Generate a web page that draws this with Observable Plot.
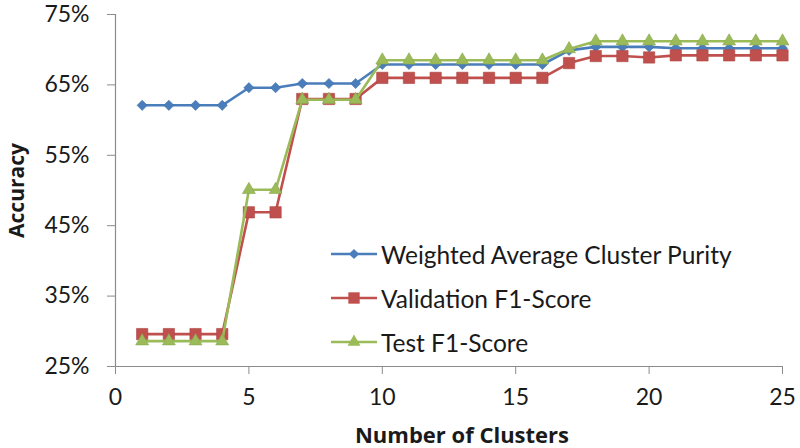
<!DOCTYPE html>
<html>
<head>
<meta charset="utf-8">
<script src="https://cdn.jsdelivr.net/npm/d3@7"></script>
<script src="https://cdn.jsdelivr.net/npm/@observablehq/plot@0.6"></script>
<style>
  html, body { margin: 0; padding: 0; background: #fff; }
  #wrap { position: relative; width: 800px; height: 448px; font-family: Lato, "Open Sans", sans-serif; }
  #legend { position: absolute; left: 331px; top: 232px; }
  .item { display: flex; align-items: center; height: 44px; font-size: 24.5px; color: #1a1a1a; white-space: nowrap; }
  .item svg { margin-right: 4px; }
</style>
</head>
<body>
<div id="wrap"><div id="legend"></div></div>
<script>
const clusters = [1,2,3,4,5,6,7,8,9,10,11,12,13,14,15,16,17,18,19,20,21,22,23,24,25];
const purity =     [62.1,62.1,62.1,62.1,64.6,64.6,65.2,65.2,65.2,67.9,67.9,67.9,67.9,67.9,67.9,67.9,69.9,70.4,70.4,70.4,70.2,70.2,70.2,70.2,70.2];
const validation = [29.6,29.6,29.6,29.6,46.9,46.9,63.0,63.0,63.0,66.0,66.0,66.0,66.0,66.0,66.0,66.0,68.1,69.1,69.1,68.9,69.2,69.2,69.2,69.2,69.2];
const testF1 =     [28.6,28.6,28.6,28.6,50.1,50.1,62.9,62.9,62.9,68.5,68.5,68.5,68.5,68.5,68.5,68.5,70.1,71.2,71.2,71.2,71.2,71.2,71.2,71.2,71.2];
const seriesNames = ["Weighted Average Cluster Purity", "Validation F1-Score", "Test F1-Score"];
const seriesValues = [purity, validation, testF1];
const colors = ["#4a7ebb", "#c0504d", "#9bbb59"];
const symbols = ["diamond2", "square", "triangle"];
const symbolR = [4.6, 6.4, 4.8];
const xTicks = [0,5,10,15,20,25];
const yTicks = [0.25,0.35,0.45,0.55,0.65,0.75];

const data = seriesNames.flatMap((s, i) => clusters.map((c, j) => ({series: s, x: c, y: seriesValues[i][j] / 100})));

const marks = [];
marks.push(Plot.ruleX([0], {stroke: "#8c8c8c", strokeWidth: 1.2}));
marks.push(Plot.ruleY([0.25], {stroke: "#8c8c8c", strokeWidth: 1.2}));
marks.push(Plot.axisY({ticks: yTicks, tickFormat: d3.format(".0%"), tickSize: 8, tickPadding: 18, fontSize: 23, stroke: "#8c8c8c", fill: "#1a1a1a", label: null}));
marks.push(Plot.axisX({ticks: xTicks, tickSize: 8, tickPadding: 14, fontSize: 23, stroke: "#8c8c8c", fill: "#1a1a1a", label: null}));
seriesNames.forEach((s, i) => {
  const d = data.filter(r => r.series === s);
  marks.push(Plot.line(d, {x: "x", y: "y", stroke: colors[i], strokeWidth: 2.6}));
  marks.push(Plot.dot(d, {x: "x", y: "y", symbol: () => symbols[i], r: symbolR[i], fill: colors[i], stroke: d3.color(colors[i]).darker(0.3).formatHex(), strokeWidth: 0.6}));
});
marks.push(Plot.text(["Accuracy"], {frameAnchor: "left", textAnchor: "middle", lineAnchor: "middle", rotate: -90, dx: -98, fontWeight: "bold", fontSize: 21, fontFamily: "'Open Sans', sans-serif", fill: "#1a1a1a"}));
marks.push(Plot.text(["Number of Clusters"], {frameAnchor: "bottom", textAnchor: "middle", lineAnchor: "middle", dx: 13, dy: 69, fontWeight: "bold", fontSize: 22, fontFamily: "'Open Sans', sans-serif", fill: "#1a1a1a"}));

const chart = Plot.plot({
  width: 800,
  height: 448,
  marginLeft: 115,
  marginRight: 18,
  marginTop: 14,
  marginBottom: 82,
  style: {fontFamily: "Lato, 'Open Sans', sans-serif", background: "#fff"},
  x: {domain: [0, 25]},
  y: {domain: [0.25, 0.75]},
  symbol: {domain: symbols, range: symbols},
  marks
});
document.getElementById("wrap").prepend(chart);

// legend
const legend = document.getElementById("legend");
seriesNames.forEach((s, i) => {
  const item = document.createElement("div");
  item.className = "item";
  const svg = d3.create("svg").attr("width", 46).attr("height", 20);
  svg.append("line").attr("x1", 0).attr("x2", 46).attr("y1", 10).attr("y2", 10).attr("stroke", colors[i]).attr("stroke-width", 2.6);
  const sym = {diamond2: d3.symbolDiamond2, square: d3.symbolSquare, triangle: d3.symbolTriangle}[symbols[i]];
  svg.append("path").attr("transform", "translate(23,10)").attr("d", d3.symbol(sym, Math.PI * symbolR[i] ** 2)()).attr("fill", colors[i]);
  item.appendChild(svg.node());
  const t = document.createElement("span");
  t.textContent = s;
  item.appendChild(t);
  legend.appendChild(item);
});
</script>
</body>
</html>
